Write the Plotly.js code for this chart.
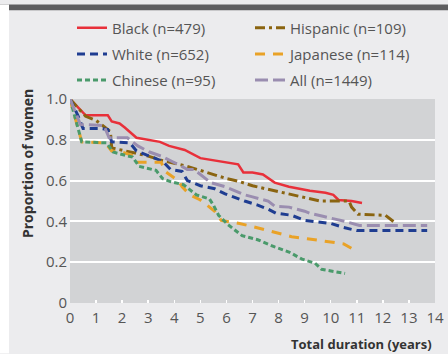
<!DOCTYPE html>
<html><head><meta charset="utf-8">
<script src="https://cdn.plot.ly/plotly-3.0.1.min.js"></script>
<style>html,body{margin:0;padding:0;background:#fff}#chart{width:448px;height:354px}</style>
</head><body><div id="chart"></div>
<script>
const seriesNames = ["Black (n=479)","Hispanic (n=109)","White (n=652)","Japanese (n=114)","Chinese (n=95)","All (n=1449)"];

const blackT = [0,0.6,1.45,1.6,1.9,2.1,2.55,3.0,3.45,3.8,4.4,5.0,5.5,6.0,6.45,6.65,7.0,7.4,7.85,8.4,9.0,9.2,9.8,10.1,10.3,10.8,11.2];
const blackP = [1.0,0.92,0.92,0.89,0.88,0.86,0.81,0.80,0.79,0.77,0.75,0.71,0.70,0.69,0.68,0.64,0.64,0.63,0.59,0.57,0.555,0.55,0.54,0.53,0.505,0.50,0.49];

const hispT = [0,0.6,1.0,1.35,1.55,1.6,2.0,2.5,3.0,3.5,4.0,4.5,5.0,5.5,6.0,6.5,7.0,7.5,8.0,8.5,9.0,9.6,10.7,10.8,11.05,12.1,12.45];
const hispP = [1.0,0.915,0.895,0.86,0.84,0.76,0.75,0.735,0.72,0.70,0.685,0.67,0.65,0.63,0.61,0.595,0.575,0.56,0.545,0.53,0.515,0.50,0.50,0.47,0.435,0.43,0.395];

const whiteT = [0,0.3,0.5,1.2,1.45,1.6,2.3,2.55,3.05,3.55,3.85,4.3,4.5,5.0,5.55,5.95,6.7,7.2,7.6,7.9,8.5,9.0,10.0,10.5,11.0,13.7];
const whiteP = [1.0,0.92,0.855,0.855,0.85,0.79,0.785,0.745,0.72,0.695,0.655,0.645,0.60,0.575,0.56,0.535,0.50,0.48,0.46,0.44,0.43,0.405,0.39,0.37,0.355,0.355];

const japT = [0,0.45,1.35,1.6,2.0,2.45,2.55,3.5,3.65,4.15,4.3,4.6,5.0,5.3,5.55,5.8,6.5,7.0,7.6,8.5,9.1,10.0,10.5,10.9];
const japP = [1.0,0.79,0.785,0.745,0.74,0.72,0.69,0.69,0.645,0.60,0.57,0.53,0.505,0.475,0.45,0.405,0.39,0.375,0.355,0.325,0.315,0.30,0.29,0.26];

const chinT = [0,0.45,1.4,1.65,2.4,2.65,3.3,3.55,3.85,4.35,4.85,5.35,5.5,5.7,6.05,6.6,7.2,7.85,8.4,8.9,9.4,9.65,10.55];
const chinP = [1.0,0.79,0.785,0.74,0.715,0.67,0.65,0.61,0.595,0.58,0.53,0.51,0.48,0.43,0.385,0.33,0.31,0.275,0.25,0.215,0.195,0.165,0.145];

const allT = [0,0.4,1.3,1.5,2.2,2.6,3.05,3.5,4.05,4.5,4.75,5.4,5.95,6.15,6.7,7.0,7.6,7.85,8.4,9.0,9.2,9.7,10.55,11.1,13.7];
const allP = [1.0,0.875,0.87,0.81,0.81,0.77,0.74,0.72,0.685,0.655,0.655,0.59,0.57,0.56,0.53,0.52,0.50,0.475,0.47,0.45,0.44,0.425,0.40,0.38,0.38];

const xTicks = [0,1,2,3,4,5,6,7,8,9,10,11,12,13,14];
const yTicks = [0,0.2,0.4,0.6,0.8,1.0];
const yTickText = ["0","0.2","0.4","0.6","0.8","1.0"];

const xs = [blackT,hispT,whiteT,japT,chinT,allT];
const ys = [blackP,hispP,whiteP,japP,chinP,allP];
const colors = ["#e8303a","#8a6410","#1f3d91","#e9a227","#4a9a6b","#9a8db0"];
const dashes = ["solid","10px,4px,3px,4px","8px,5px","10px,8px","5px,3px","13px,5px"];
const widths = [2.5,3,3,3,3,3];
const legendIds = ["legend","legend","legend2","legend2","legend3","legend3"];

const traces = seriesNames.map((n,i)=>({
  x: xs[i], y: ys[i], name: n, type:'scatter', mode:'lines', legend: legendIds[i],
  line:{color:colors[i], dash:dashes[i], width:widths[i], shape:'linear'},
  hoverinfo:'skip'
}));

const W=365, H=207;
const px = v => (v-70)/W;
const py = v => (303-v)/H;
const FONT = 'Open Sans, sans-serif';

function legendAt(yc){
  return {orientation:'h', x:px(72), xanchor:'left', y:py(yc), yanchor:'middle',
    entrywidth:133, entrywidthmode:'pixels', bgcolor:'rgba(0,0,0,0)', borderwidth:0,
    font:{family:FONT, size:15, color:'#555'}, traceorder:'normal'};
}

const layout = {
  width:448, height:354,
  margin:{l:70,r:13,t:96,b:51,pad:0},
  paper_bgcolor:'#ececee', plot_bgcolor:'#d2d3d5',
  font:{family:FONT, size:15, color:'#555'},
  showlegend:true,
  legend:legendAt(24),
  legend2:legendAt(50.5),
  legend3:legendAt(77),
  xaxis:{range:[0,14], tickvals:xTicks, ticktext:xTicks.map(String), ticks:'inside', ticklen:3,
    tickcolor:'#ffffff', tickwidth:1.5, showgrid:false, zeroline:false, showline:false,
    ticklabelstandoff:4,
    tickfont:{size:15,color:'#555'}, fixedrange:true},
  yaxis:{range:[0,1], tickvals:yTicks, ticktext:yTickText, ticks:'', showgrid:true,
    gridcolor:'#ffffff', gridwidth:2, zeroline:false, showline:false,
    ticklabelstandoff:2,
    tickfont:{size:15,color:'#555'}, fixedrange:true},
  shapes:[
    {type:'rect', xref:'paper', yref:'paper', x0:px(0), x1:px(448), y0:py(6), y1:py(0),
     fillcolor:'#5e5e60', line:{width:0}, layer:'above'},
    {type:'rect', xref:'paper', yref:'paper', x0:px(0), x1:px(9), y0:py(354), y1:py(0),
     fillcolor:'#ffffff', line:{width:0}, layer:'above'}
  ],
  annotations:[
    {text:'<b>Proportion of women</b>', xref:'paper', yref:'paper', x:px(27), y:py(162),
     textangle:-90, showarrow:false, xanchor:'center', yanchor:'middle',
     font:{family:FONT, size:14, color:'#333'}},
    {text:'<b>Total duration (years)</b>', xref:'paper', yref:'paper', x:px(434), y:py(345),
     showarrow:false, xanchor:'right', yanchor:'middle',
     font:{family:FONT, size:13, color:'#333'}}
  ]
};

Plotly.newPlot('chart', traces, layout, {displayModeBar:false, staticPlot:true});
</script></body></html>
